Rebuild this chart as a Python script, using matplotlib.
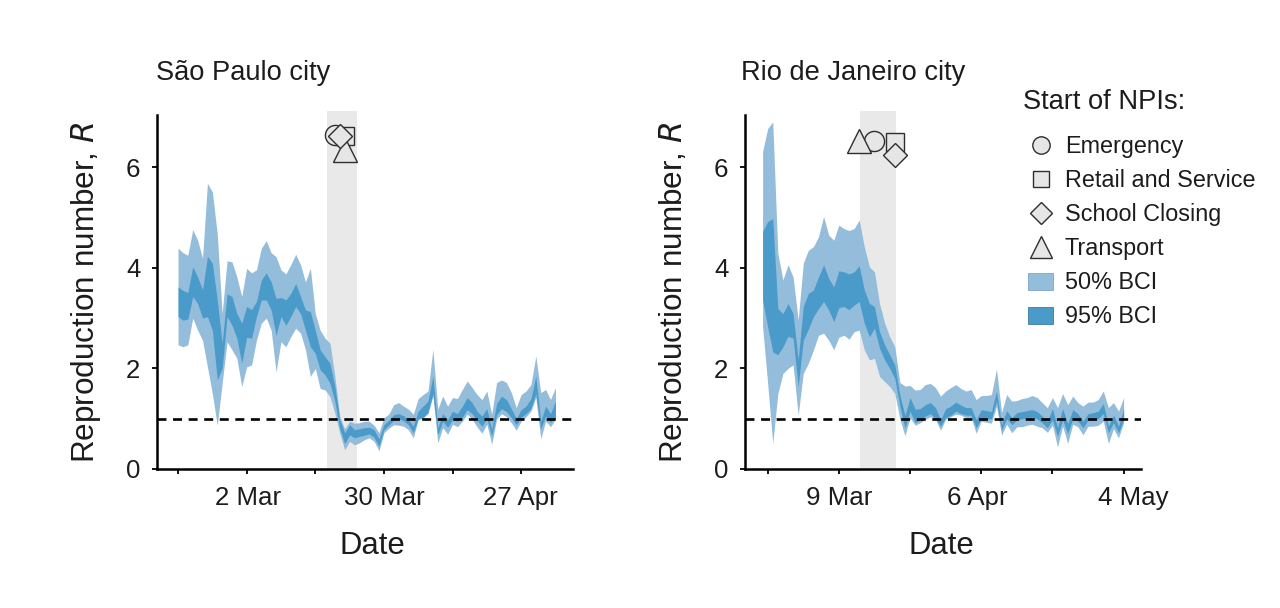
import matplotlib
matplotlib.use("Agg")
import matplotlib.pyplot as plt
from matplotlib.lines import Line2D
from matplotlib.patches import Patch
from matplotlib.transforms import ScaledTranslation
import pandas as pd

plt.rcParams['font.family'] = ['Liberation Sans', 'DejaVu Sans']
TXT = '#1c1c1c'

# ---- São Paulo ----
sp_dates = pd.date_range('2020-02-17', periods=78, freq='D')
sp_hi_outer = [4.39,4.30,4.25,4.76,4.55,4.19,5.68,5.51,4.68,3.09,4.14,4.12,3.82,3.43,3.99,3.90,3.96,4.39,4.54,4.30,
               4.22,3.96,3.88,4.06,4.27,4.06,3.72,3.99,3.09,2.76,2.60,2.50,1.84,1.04,0.80,0.95,0.91,0.92,0.95,0.95,
               0.87,0.72,1.02,1.09,1.28,1.32,1.25,1.19,1.09,1.40,1.48,1.55,2.38,1.19,1.45,1.25,1.42,1.40,1.58,1.75,
               1.62,1.48,1.38,1.55,1.09,1.72,1.77,1.72,1.52,1.22,1.48,1.55,1.68,2.25,1.52,1.58,1.38,1.62]
sp_lo_outer = [2.47,2.43,2.47,3.00,2.76,2.56,2.03,1.50,0.87,1.70,2.53,2.37,2.20,1.64,2.03,2.07,2.56,2.90,3.00,2.76,
               1.93,2.53,2.43,2.63,2.80,2.70,2.37,1.84,2.00,1.60,1.57,1.44,1.11,0.71,0.38,0.55,0.48,0.52,0.58,0.62,
               0.55,0.36,0.72,0.81,0.88,0.87,0.85,0.78,0.62,0.98,1.01,1.11,1.45,0.52,0.82,0.69,0.89,0.84,0.95,1.09,
               0.99,0.84,0.71,0.89,0.49,0.99,1.10,1.04,0.92,0.77,0.95,1.04,1.15,1.42,0.60,0.95,0.84,0.99]
sp_hi_inner = [3.62,3.55,3.51,4.02,3.82,3.56,4.23,4.09,3.36,2.50,3.48,3.43,3.09,2.90,3.23,3.17,3.33,3.76,3.90,3.72,
               3.39,3.41,3.36,3.49,3.69,3.43,3.16,3.13,2.76,2.37,2.23,2.10,1.64,0.98,0.72,0.88,0.78,0.80,0.82,0.83,
               0.78,0.60,0.88,0.97,1.08,1.10,1.06,0.98,0.85,1.15,1.25,1.35,1.85,0.82,1.10,0.98,1.15,1.10,1.25,1.42,
               1.32,1.15,1.05,1.20,0.78,1.30,1.45,1.38,1.20,1.00,1.18,1.25,1.40,1.85,0.95,1.25,1.10,1.35]
sp_lo_inner = [3.03,2.96,2.98,3.43,3.29,3.00,3.03,2.76,1.77,2.00,3.03,2.86,2.60,2.10,2.62,2.60,3.03,3.36,3.36,3.16,
               2.66,3.03,2.86,3.03,3.23,3.09,2.76,2.43,2.30,1.97,1.87,1.70,1.34,0.80,0.50,0.68,0.62,0.65,0.67,0.70,
               0.63,0.45,0.78,0.87,0.98,1.00,0.96,0.88,0.72,1.00,1.03,1.12,1.50,0.68,0.95,0.83,0.98,0.95,1.03,1.18,
               1.10,0.97,0.85,1.00,0.65,1.08,1.20,1.14,1.02,0.88,1.03,1.10,1.20,1.50,0.80,1.05,0.93,1.02]
sp_ticks = pd.date_range('2020-02-17', periods=6, freq='14D')
sp_tick_labels = ['', '2 Mar', '', '30 Mar', '', '27 Apr']
sp_npi = {'circle': ('2020-03-20', 6.64), 'square': ('2020-03-22', 6.62), 'diamond': ('2020-03-21', 6.62), 'triangle': ('2020-03-22', 6.34)}
sp_span = ('2020-03-18 10:00', '2020-03-24 12:00')

# ---- Rio de Janeiro ----
rj_dates = pd.date_range('2020-02-23', periods=72, freq='D')
rj_hi_outer = [6.31,6.77,6.90,4.29,3.76,4.06,3.82,2.96,4.09,4.35,4.42,4.62,5.02,4.65,4.55,4.85,4.78,4.74,4.78,4.95,
               4.42,4.02,3.92,3.29,2.90,2.63,2.43,1.72,1.65,1.66,1.57,1.58,1.68,1.70,1.62,1.45,1.55,1.62,1.68,1.60,
               1.55,1.58,1.38,1.46,1.46,1.48,1.99,1.12,1.48,1.35,1.36,1.40,1.42,1.46,1.42,1.32,1.22,1.42,1.22,1.50,
               1.28,1.45,1.32,1.25,1.33,1.33,1.38,1.55,1.22,1.32,1.15,1.42]
rj_lo_outer = [2.83,1.70,0.51,1.50,1.90,2.00,2.07,1.07,1.90,2.10,2.37,2.66,2.70,2.56,2.37,2.62,2.66,2.58,2.73,2.76,
               2.37,2.17,2.20,1.84,1.74,1.64,1.50,0.99,0.66,1.02,0.87,0.92,0.99,1.04,0.99,0.77,0.99,1.04,1.09,1.07,
               1.02,1.02,0.71,0.95,0.93,0.91,1.25,0.67,0.89,0.72,0.84,0.84,0.87,0.89,0.85,0.82,0.73,0.87,0.44,0.85,
               0.51,0.89,0.84,0.68,0.85,0.85,0.87,0.95,0.51,0.80,0.62,0.92]
rj_hi_inner = [4.72,4.92,4.98,3.19,3.09,3.29,3.09,2.17,3.23,3.49,3.56,3.82,4.06,3.79,3.62,3.94,3.92,3.88,3.92,4.04,
               3.56,3.29,3.23,2.73,2.47,2.27,2.07,1.47,1.07,1.42,1.19,1.20,1.28,1.32,1.22,0.98,1.20,1.25,1.33,1.27,
               1.22,1.22,0.98,1.18,1.16,1.14,1.55,0.88,1.16,1.02,1.12,1.14,1.16,1.18,1.14,1.05,0.95,1.20,0.82,1.20,
               0.90,1.18,1.10,0.95,1.10,1.12,1.15,1.30,0.85,1.07,0.85,1.20]
rj_lo_inner = [3.36,2.83,2.33,2.27,2.43,2.64,2.60,1.64,2.56,2.78,3.03,3.19,3.33,3.16,2.93,3.21,3.23,3.17,3.26,3.33,
               2.90,2.63,2.80,2.40,2.17,2.00,1.80,1.24,0.81,1.15,0.92,0.98,1.05,1.10,1.00,0.85,1.02,1.07,1.15,1.10,
               1.07,1.07,0.82,1.00,1.00,1.00,1.35,0.77,1.00,0.88,0.97,1.00,1.02,1.03,1.00,0.92,0.82,0.98,0.65,0.98,
               0.70,1.00,0.95,0.82,0.97,0.98,1.00,1.10,0.72,0.92,0.72,0.98]
rj_ticks = pd.date_range('2020-02-24', periods=6, freq='14D')
rj_tick_labels = ['', '9 Mar', '', '6 Apr', '', '4 May']
rj_npi = {'triangle': ('2020-03-13', 6.52), 'circle': ('2020-03-16', 6.52), 'square': ('2020-03-20', 6.50), 'diamond': ('2020-03-20', 6.24)}
rj_span = ('2020-03-13 02:00', '2020-03-20 05:00')

# ---- Styles ----
C_OUT = '#93bddb'
C_IN = '#4b9bca'
C_SPAN = '#e9e9e9'
C_EDGE = '#2e2e2e'
C_FACE = '#e6e6e6'
W, H = 1280, 608
markers = {'circle': ('o', 14.5), 'square': ('s', 12.5), 'diamond': ('D', 12.5), 'triangle': ('^', 17)}
legend_ms = {'circle': 12.5, 'square': 11, 'diamond': 11, 'triangle': 15.5}
order = ['circle', 'square', 'diamond', 'triangle']

fig = plt.figure(figsize=(W/100, H/100), dpi=100, facecolor='white')

def add_panel(box, xlim, dates, lo_o, hi_o, lo_i, hi_i, ticks, labels, npi, span, title, title_x, date_x, nudges):
    l, r, b, t = box
    ax = fig.add_axes([l/W, 1-b/H, (r-l)/W, (b-t)/H])
    ax.axvspan(pd.Timestamp(span[0]), pd.Timestamp(span[1]), color=C_SPAN, lw=0, zorder=1)
    ax.fill_between(dates, lo_o, hi_o, color=C_OUT, lw=0, zorder=2)
    ax.fill_between(dates, lo_i, hi_i, color=C_IN, lw=0, zorder=3)
    ax.axhline(1, color='black', lw=1.9, dashes=(3.4, 2.5), zorder=4)
    for k in ['square', 'circle', 'triangle', 'diamond']:
        d, v = npi[k]
        m, s = markers[k]
        ax.plot([pd.Timestamp(d)], [v], marker=m, ms=s, mfc=C_FACE, mec=C_EDGE, mew=1.0, ls='none', zorder=5, clip_on=False)
    ax.set_xlim(pd.Timestamp(xlim[0]), pd.Timestamp(xlim[1]))
    ax.set_ylim(0, (b-t)/50.3)
    for s in ['top', 'right']:
        ax.spines[s].set_visible(False)
    for s in ['left', 'bottom']:
        ax.spines[s].set_linewidth(1.8)
    ax.spines['left'].set_bounds(0, 7.03)
    ax.set_yticks([0, 2, 4, 6])
    ax.set_xticks(ticks)
    ax.set_xticklabels(labels)
    ax.tick_params(axis='x', length=3.5, width=1.3, labelsize=18.6, labelcolor=TXT, pad=9)
    ax.tick_params(axis='y', length=3.5, width=1.3, labelsize=18.6, labelcolor=TXT, pad=8.5)
    for lbl, n in zip(ax.get_xticklabels(), nudges):
        lbl.set_transform(lbl.get_transform() + ScaledTranslation(n/100, 0, fig.dpi_scale_trans))
    ax.set_xlabel('Date', fontsize=22.4, color=TXT, labelpad=15, x=(date_x-l)/(r-l))
    ax.set_ylabel('Reproduction number, $\\mathit{R}$', fontsize=22.7, color=TXT, labelpad=16.5, y=0.494)
    fig.text(title_x/W, 1-73/H, title, fontsize=19.6, color=TXT, va='center', ha='left')
    return ax

ax1 = add_panel((157, 573, 469, 111), ('2020-02-12 17:00', '2020-05-07 14:00'), sp_dates,
                sp_lo_outer, sp_hi_outer, sp_lo_inner, sp_hi_inner, sp_ticks, sp_tick_labels,
                sp_npi, sp_span, 'São Paulo city', 156, 372, [0, 1, 0, 0, 0, -1])
ax2 = add_panel((745, 1141, 469, 111), ('2020-02-19 13:00', '2020-05-07 10:00'), rj_dates,
                rj_lo_outer, rj_hi_outer, rj_lo_inner, rj_hi_inner, rj_ticks, rj_tick_labels,
                rj_npi, rj_span, 'Rio de Janeiro city', 741, 941, [0, 0, 0, -4, 0, 10])

# ---- Legend ----
names = {'circle': 'Emergency', 'square': 'Retail and Service', 'diamond': 'School Closing', 'triangle': 'Transport'}
handles = [Line2D([], [], marker=markers[k][0], ms=legend_ms[k], mfc=C_FACE, mec=C_EDGE, mew=1.0, ls='none', label=names[k]) for k in order]
handles += [Patch(fc=C_OUT, ec='#7fa6c0', lw=0.6, label='50% BCI'), Patch(fc=C_IN, ec='#3d7a9e', lw=0.6, label='95% BCI')]
fig.text(1023/W, 1-102/H, 'Start of NPIs:', fontsize=19.6, color=TXT, va='center', ha='left')
leg = fig.legend(handles=handles, loc='upper left', bbox_to_anchor=(1028/W, 1-135/H), bbox_transform=fig.transFigure,
                 frameon=False, fontsize=16.8, labelspacing=0.475, handlelength=1.08, handleheight=0.74,
                 handletextpad=0.5, borderpad=0, borderaxespad=0, labelcolor=TXT)

fig.savefig('out.png', dpi=100)
